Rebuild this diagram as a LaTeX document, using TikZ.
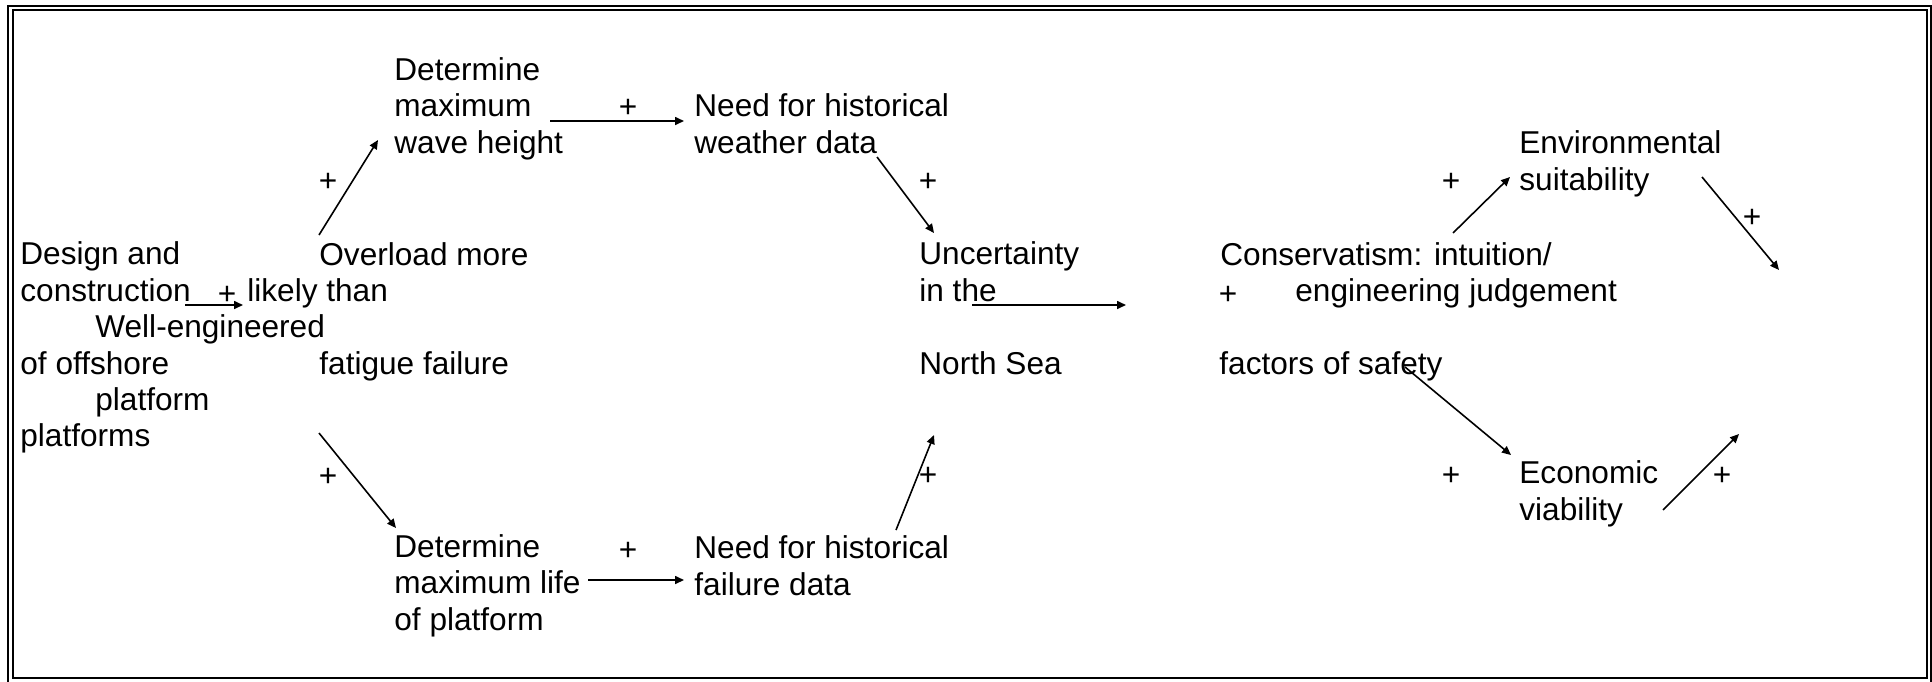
\documentclass[tikz,border=0pt]{standalone}
\usepackage{fontspec}
\setmainfont{Liberation Sans}
\usetikzlibrary{arrows.meta}
\tikzset{
  txt/.style={anchor=base west,inner sep=0pt,align=left,font=\fontsize{15.8}{18.25}\selectfont},
  sign/.style={anchor=base,inner sep=0pt,font=\fontsize{15.8}{18.25}\selectfont},
  link/.style={-{Triangle[length=4.5pt,width=4pt]},line width=0.8pt},
  frame/.style={draw,line width=1pt}
}

\begin{document}
\begin{tikzpicture}[x=0.5pt,y=-0.5pt]
\useasboundingbox (0,0) rectangle (1932,681);
\draw[frame] (8.3,6) rectangle (1931.3,684);
\draw[frame] (12.5,10.2) rectangle (1927.3,677.7);
% left column (multi-line texts sit on their last line)
\node[txt] (design) at (20,301) {Design and\\construction};
\node[txt] (welleng) at (95,337) {Well-engineered};
\node[txt] (offshore) at (20,374) {of offshore};
\node[txt] (platform) at (95,410) {platform};
\node[txt] (platforms) at (20,446) {platforms};
\node[txt] (overload) at (319,265) {Overload more};
\node[txt] (likely) at (247,301) {likely than};
\node[txt] (fatigue) at (319,374) {fatigue failure};
% wave and life branches
\node[txt] (wave) at (394,153) {Determine\\maximum\\wave height};
\node[txt] (life) at (394,630) {Determine\\maximum life\\of platform};
\node[txt] (weather) at (694,153) {Need for historical\\weather data};
\node[txt] (faildata) at (694,595) {Need for historical\\failure data};
\node[txt] (uncert) at (919,301) {Uncertainty\\in the};
\node[txt] (northsea) at (919,374) {North Sea};
% right part
\node[txt] (conserv) at (1220,265) {Conservatism: intuition/};
\node[txt] (judge) at (1295,301) {engineering judgement};
\node[txt] (factors) at (1219,374) {factors of safety};
\node[txt] (envsuit) at (1519,190) {Environmental\\suitability};
\node[txt] (econ) at (1519,520) {Economic\\viability};
% signs
\foreach \n/\x/\y in {s1/227/304, s2/328/191, s3/328/486, s4/628/117, s5/628/560,
  s6/928/191, s7/928/485, s8/1228/304, s9/1451/191, s10/1752/227, s11/1451/485, s12/1722/485}
  \node[sign] (\n) at (\x,\y) {+};
% arrow ends
\coordinate (d1) at (185,305);   \coordinate (d2) at (243,305);
\coordinate (o1) at (319,235);   \coordinate (o2) at (378,140);
\coordinate (o3) at (319,433);   \coordinate (o4) at (396,528);
\coordinate (w1) at (550,121);   \coordinate (w2) at (684,121);
\coordinate (l1) at (588,580);   \coordinate (l2) at (684,580);
\coordinate (h1) at (877,157);   \coordinate (h2) at (934,233);
\coordinate (f1) at (896,530);   \coordinate (f2) at (934,435);
\coordinate (u1) at (972,305);   \coordinate (u2) at (1126,305);
\coordinate (c1) at (1453,233);  \coordinate (c2) at (1510,177);
\coordinate (c3) at (1405,367);  \coordinate (c4) at (1511,455);
\coordinate (e1) at (1702,177);  \coordinate (e2) at (1779,270);
\coordinate (v1) at (1663,510);  \coordinate (v2) at (1739,434);
\foreach \a/\b in {d1/d2,o1/o2,o3/o4,w1/w2,l1/l2,h1/h2,f1/f2,u1/u2,c1/c2,c3/c4,e1/e2,v1/v2}
  \draw[link] (\a) -- (\b);
\end{tikzpicture}
\end{document}
